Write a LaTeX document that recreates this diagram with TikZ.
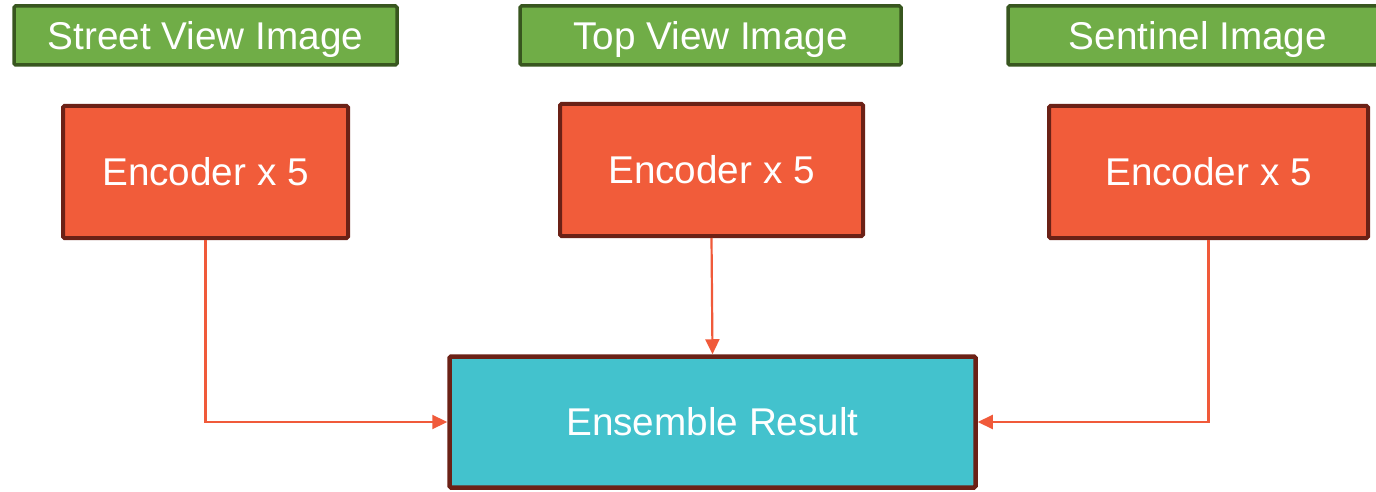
\documentclass[tikz,border=0pt]{standalone}
\usepackage{fontspec}
\setmainfont{Liberation Sans}
\usetikzlibrary{arrows.meta}
\definecolor{gfill}{HTML}{70AD47}
\definecolor{gdraw}{HTML}{38561F}
\definecolor{ofill}{HTML}{F15C3A}
\definecolor{odraw}{HTML}{6B2116}
\definecolor{cfill}{HTML}{43C2CD}
\definecolor{conn}{HTML}{F05A3A}
\tikzset{
  lbl/.style={draw=gdraw, fill=gfill, line width=3.5pt, rounded corners=1.5pt, text=white,
    font=\fontsize{38.7}{46}\selectfont, minimum height=59pt, inner sep=0pt, text depth=0pt},
  enc/.style={draw=odraw, fill=ofill, line width=4pt, rounded corners=1.5pt, text=white,
    font=\fontsize{38.7}{46}\selectfont, minimum height=132pt, inner sep=0pt},
  res/.style={draw=odraw, fill=cfill, line width=4.5pt, rounded corners=1.5pt, text=white,
    font=\fontsize{38.7}{46}\selectfont, minimum height=131pt, inner sep=0pt},
  link/.style={draw=conn, line width=2.2pt, -{Triangle[length=15pt,width=14pt]}}
}
\begin{document}
\begin{tikzpicture}[x=1pt,y=-1pt]
\useasboundingbox (0,0) rectangle (1376,492);
\node[lbl, minimum width=383pt] (g1) at (205.5,35.5) {Street View Image};
\node[lbl, minimum width=381pt] (g2) at (710.5,35.5) {Top View Image};
\node[lbl, minimum width=380pt] (g3) at (1198,35.5) {Sentinel Image};
\node[enc, minimum width=285pt] (e1) at (205.5,172) {Encoder x 5};
\node[enc, minimum width=303pt] (e2) at (711.5,170) {Encoder x 5};
\node[enc, minimum width=319pt] (e3) at (1208.5,172) {Encoder x 5};
\node[res, minimum width=526pt] (r) at (712.5,422) {Ensemble Result};
\draw[link] (e1.south) |- (r.west);
\draw[link] (e2.south) -- (r.north);
\draw[link] (e3.south) |- (r.east);
\end{tikzpicture}
\end{document}
